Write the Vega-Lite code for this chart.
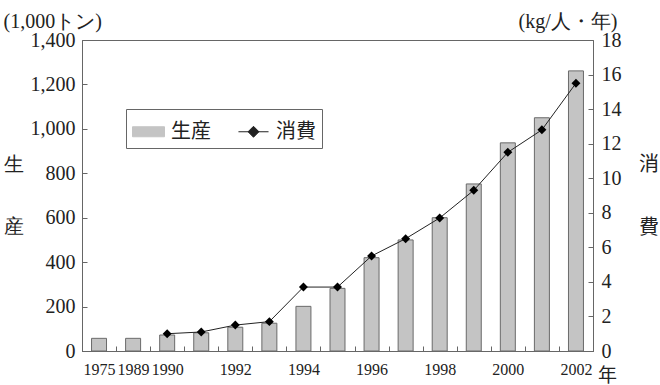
{
  "$schema": "https://vega.github.io/schema/vega-lite/v6.json",
  "width": 511,
  "height": 311,
  "autosize": {"type": "none"},
  "padding": {"left": 82, "top": 40, "right": 67, "bottom": 34},
  "background": "white",
  "title": {
    "text": ["消", "\u200b", "\u200b", "費"],
    "orient": "right",
    "anchor": "middle",
    "angle": 0,
    "align": "left",
    "baseline": "middle",
    "lineHeight": 21,
    "offset": -2,
    "dy": -31,
    "font": "Noto Sans CJK JP",
    "fontSize": 20,
    "fontWeight": "normal",
    "color": "#222"
  },
  "config": {
    "view": {"stroke": "#666", "strokeWidth": 1},
    "font": "Liberation Serif",
    "axis": {
      "grid": false,
      "domainColor": "#666",
      "tickColor": "#666",
      "labelColor": "#222",
      "titleColor": "#222",
      "labelFont": "Liberation Serif",
      "titleFont": "Liberation Serif",
      "titleFontWeight": "normal"
    },
    "legend": {
      "title": null,
      "orient": "none",
      "legendX": 44,
      "legendY": 69,
      "direction": "horizontal",
      "strokeColor": "#666",
      "fillColor": "white",
      "padding": 6,
      "columnPadding": 25,
      "symbolSize": 1024,
      "labelFont": "Noto Sans CJK JP",
      "labelFontSize": 20,
      "labelColor": "#222",
      "labelOffset": 6,
      "symbolStrokeWidth": 1,
      "symbolOpacity": 1
    }
  },
  "data": {
    "values": [
      {"year": "1975", "prod": 57, "cons": null},
      {"year": "1989", "prod": 57, "cons": null},
      {"year": "1990", "prod": 72, "cons": 1.0},
      {"year": "1991", "prod": 82, "cons": 1.1},
      {"year": "1992", "prod": 107, "cons": 1.5},
      {"year": "1993", "prod": 125, "cons": 1.7},
      {"year": "1994", "prod": 201, "cons": 3.7},
      {"year": "1995", "prod": 282, "cons": 3.7},
      {"year": "1996", "prod": 420, "cons": 5.5},
      {"year": "1997", "prod": 500, "cons": 6.5},
      {"year": "1998", "prod": 600, "cons": 7.7},
      {"year": "1999", "prod": 752, "cons": 9.3},
      {"year": "2000", "prod": 937, "cons": 11.5},
      {"year": "2001", "prod": 1050, "cons": 12.8},
      {"year": "2002", "prod": 1261, "cons": 15.5}
    ]
  },
  "encoding": {
    "x": {
      "field": "year",
      "type": "nominal",
      "scale": {"paddingInner": 0, "paddingOuter": 0},
      "axis": {
        "title": "年",
        "titleX": 525,
        "titleY": 30,
        "titleAlign": "center",
        "titleBaseline": "alphabetic",
        "titleFont": "Noto Sans CJK JP",
        "titleFontSize": 19,
        "labelFontSize": 16,
        "labelAngle": 0,
        "labelOverlap": false,
        "tickBand": "extent",
        "tickSize": -5,
        "labelPadding": 15,
        "labelExpr": "indexof(['1975','1989','1990','1992','1994','1996','1998','2000','2002'], datum.label) >= 0 ? datum.label : ''"
      }
    }
  },
  "layer": [
    {
      "mark": {"type": "bar", "width": {"band": 0.44}, "stroke": "#6a6a6a", "strokeWidth": 1},
      "encoding": {
        "y": {
          "field": "prod",
          "type": "quantitative",
          "scale": {"domain": [0, 1400], "nice": false},
          "axis": {
            "orient": "left",
            "values": [0, 200, 400, 600, 800, 1000, 1200, 1400],
            "format": ",d",
            "labelFontSize": 20,
            "tickSize": -5,
            "labelPadding": 12,
            "title": ["(1,000トン)", "\u200b", "\u200b", "\u200b", "\u200b", "\u200b", "\u200b", "生", "\u200b", "\u200b", "産"],
            "titleAngle": 0,
            "titleAlign": "left",
            "titleBaseline": "alphabetic",
            "titleX": -79,
            "titleY": -13,
            "titleFontSize": 20,
            "titleLineHeight": 20.5
          }
        },
        "color": {
          "datum": "生産",
          "type": "nominal",
          "scale": {"domain": ["生産", "消費"], "range": ["#c4c4c4", "#222"]},
          "legend": {
            "symbolType": {"expr": "datum.value === '生産' ? 'M-1,-0.3125L1,-0.3125L1,0.3125L-1,0.3125Z' : 'M-0.94,0L0.94,0M-0.34,0L0,-0.34L0.34,0L0,0.34Z'"}
          }
        }
      }
    },
    {
      "mark": {"type": "line", "strokeWidth": 1, "color": "#333"},
      "encoding": {
        "y": {
          "field": "cons",
          "type": "quantitative",
          "scale": {"domain": [0, 18], "nice": false},
          "axis": {
            "orient": "right",
            "values": [0, 2, 4, 6, 8, 10, 12, 14, 16, 18],
            "labelFontSize": 20,
            "tickSize": -5,
            "labelPadding": 13,
            "title": "(kg/人・年)",
            "titleAngle": 0,
            "titleAlign": "right",
            "titleBaseline": "alphabetic",
            "titleX": 24,
            "titleY": -13,
            "titleFontSize": 20
          }
        },
        "color": {
          "datum": "消費",
          "type": "nominal",
          "legend": {
            "symbolType": {"expr": "datum.value === '生産' ? 'M-1,-0.3125L1,-0.3125L1,0.3125L-1,0.3125Z' : 'M-0.94,0L0.94,0M-0.34,0L0,-0.34L0.34,0L0,0.34Z'"}
          }
        }
      }
    },
    {
      "mark": {"type": "point", "shape": "diamond", "filled": true, "size": 80, "color": "#000", "opacity": 1},
      "encoding": {
        "y": {
          "field": "cons",
          "type": "quantitative",
          "scale": {"domain": [0, 18], "nice": false},
          "axis": null
        }
      }
    }
  ],
  "resolve": {"scale": {"y": "independent"}}
}
